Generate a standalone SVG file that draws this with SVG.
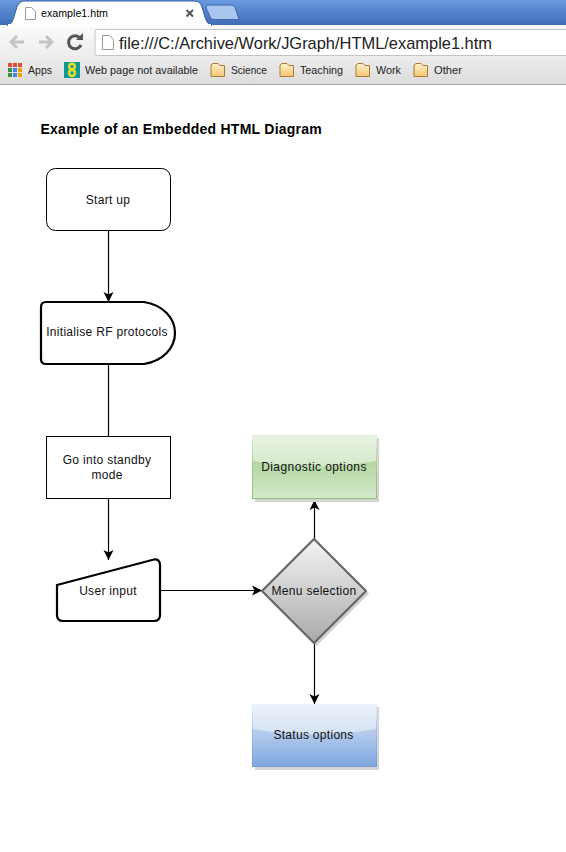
<svg xmlns="http://www.w3.org/2000/svg" width="566" height="852" viewBox="0 0 566 852">
<style>
text{font-family:"Liberation Sans",Arial,sans-serif;fill:#000}
.n{font-size:12px;text-anchor:middle;letter-spacing:.3px;fill:#111}
.b{font-size:11px;fill:#222}
.e{fill:none;stroke:#000;stroke-width:1.2}
.k{fill:#fff;stroke:#000;stroke-width:2.2;stroke-linejoin:round}
.f{fill:url(#fold);stroke:#a87a38;stroke-width:1}
.pg{fill:#fff;stroke:#999;stroke-width:1}
.gl{fill:#fff;fill-opacity:.45}
</style>
<defs>
<marker id="a" markerUnits="userSpaceOnUse" markerWidth="12" markerHeight="12" refX="10" refY="6" orient="auto"><path d="M0 1 L10 6 L0 11 L2.500 6Z" fill="#000"/></marker>
<linearGradient id="top" x1="0" y1="0" x2="0" y2="1"><stop offset="0" stop-color="#6a9ae0"/><stop offset="1" stop-color="#3f6cb8"/></linearGradient>
<linearGradient id="bar" x1="0" y1="0" x2="0" y2="1"><stop offset="0" stop-color="#fbfbfb"/><stop offset="1" stop-color="#ececec"/></linearGradient>
<linearGradient id="bm" x1="0" y1="0" x2="0" y2="1"><stop offset="0" stop-color="#ececec"/><stop offset="1" stop-color="#dcdcdc"/></linearGradient>
<linearGradient id="fold" x1="0" y1="0" x2="0" y2="1"><stop offset="0" stop-color="#fff0c8"/><stop offset="1" stop-color="#f6c675"/></linearGradient>
<linearGradient id="dia" x1="0" y1="0" x2="0" y2="1"><stop offset="0" stop-color="#f4f4f4"/><stop offset="1" stop-color="#aaaaaa"/></linearGradient>
<linearGradient id="grn" x1="0" y1="0" x2="0" y2="1"><stop offset="0" stop-color="#d6ebcd"/><stop offset=".45" stop-color="#b3d8a3"/><stop offset="1" stop-color="#d5e8cc"/></linearGradient>
<linearGradient id="blu" x1="0" y1="0" x2="0" y2="1"><stop offset="0" stop-color="#dce8f8"/><stop offset=".45" stop-color="#b4ccec"/><stop offset="1" stop-color="#7ea6de"/></linearGradient>
<linearGradient id="gs" x1="0" y1="0" x2="0" y2="1"><stop offset="0" stop-color="#e6f2e0"/><stop offset=".4" stop-color="#a9d098"/><stop offset="1" stop-color="#8fc07f"/></linearGradient>
<linearGradient id="bs" x1="0" y1="0" x2="0" y2="1"><stop offset="0" stop-color="#edf3fc"/><stop offset=".4" stop-color="#a5c2ea"/><stop offset="1" stop-color="#7399d2"/></linearGradient>
</defs>
<rect width="566" height="852" fill="#fff"/>
<g id="browser">
<rect width="566" height="25" fill="url(#top)"/>
<rect y="25" width="566" height="33" fill="url(#bar)"/>
<rect y="58" width="566" height="26" fill="url(#bm)"/>
<rect y="84" width="566" height="1" fill="#a8a8a8"/>
<path d="M7 25.500 C13 24 13 19 16 10 C18 3 20 1 26 1 L194 1 C200 1 201 4 203 10 C205 17 206 24 212 25.500" fill="#fff" stroke="#2f5a9e" stroke-width="1"/>
<rect x="8" y="24" width="203" height="2" fill="#fff"/>
<path d="M209 5 L231 5 C234 5 235 7 236 10 L239 19.500 L214 19.500 C211 19.500 210 17 209 14 L206 8 C206 6 207 5 209 5Z" fill="#a9c6ef" stroke="#3a66ad"/>
<path class="pg" d="M25.500 7.500 L31.500 7.500 L35.500 11.500 L35.500 19.500 L25.500 19.500Z"/>
<text x="41" y="17" textLength="67" lengthAdjust="spacingAndGlyphs" style="font-size:11px">example1.htm</text>
<path d="M186.500 10 L193 16.500 M193 10 L186.500 16.500" stroke="#555" stroke-width="2" fill="none"/>
<path d="M24 42 L11 42 M17 36 L11 42 L17 48" stroke="#c4c4c4" stroke-width="3" fill="none"/>
<path d="M39 42 L52 42 M46 36 L52 42 L46 48" stroke="#c4c4c4" stroke-width="3" fill="none"/>
<path d="M80 38 A6.500 6.500 0 1 0 81 45" stroke="#555" stroke-width="3" fill="none"/>
<path d="M76 40 L83 40 L83 33Z" fill="#555"/>
<rect x="95" y="29.500" width="475" height="26" rx="2" fill="#fff" stroke="#c4c4c4"/>
<path class="pg" d="M102.500 35.500 L109.500 35.500 L113.500 39.500 L113.500 49.500 L102.500 49.500Z"/>
<text x="119" y="49" textLength="373" lengthAdjust="spacingAndGlyphs" style="font-size:17px;fill:#222">file:///C:/Archive/Work/JGraph/HTML/example1.htm</text>
<g>
<rect x="8" y="63" width="4" height="4" fill="#dd4b39"/><rect x="13" y="63" width="4" height="4" fill="#dd4b39"/><rect x="18" y="63" width="4" height="4" fill="#dd4b39"/>
<rect x="8" y="68" width="4" height="4" fill="#3a8f3a"/><rect x="13" y="68" width="4" height="4" fill="#4285f4"/><rect x="18" y="68" width="4" height="4" fill="#f4a000"/>
<rect x="8" y="73" width="4" height="4" fill="#3a8f3a"/><rect x="13" y="73" width="4" height="4" fill="#4285f4"/><rect x="18" y="73" width="4" height="4" fill="#f4a000"/>
</g>
<text x="28" y="74" class="b" textLength="24" lengthAdjust="spacingAndGlyphs">Apps</text>
<rect x="64" y="62" width="16" height="16" fill="#109a96"/>
<circle cx="72" cy="66.500" r="2.800" fill="#109a96" stroke="#e8e020" stroke-width="2.400"/>
<circle cx="72" cy="73" r="3" fill="#109a96" stroke="#e8e020" stroke-width="2.400"/>
<text x="85" y="74" class="b" textLength="113" lengthAdjust="spacingAndGlyphs">Web page not available</text>
<path class="f" d="M211 76.500 L211 65 L213 63.500 L218 63.500 L220 65.500 L224.500 65.500 L224.500 76.500Z"/>
<text x="231" y="74" class="b" textLength="36" lengthAdjust="spacingAndGlyphs">Science</text>
<path class="f" d="M280 76.500 L280 65 L282 63.500 L287 63.500 L289 65.500 L293.500 65.500 L293.500 76.500Z"/>
<text x="300" y="74" class="b" textLength="43" lengthAdjust="spacingAndGlyphs">Teaching</text>
<path class="f" d="M356 76.500 L356 65 L358 63.500 L363 63.500 L365 65.500 L369.500 65.500 L369.500 76.500Z"/>
<text x="376" y="74" class="b" textLength="25" lengthAdjust="spacingAndGlyphs">Work</text>
<path class="f" d="M414 76.500 L414 65 L416 63.500 L421 63.500 L423 65.500 L427.500 65.500 L427.500 76.500Z"/>
<text x="434" y="74" class="b" textLength="28" lengthAdjust="spacingAndGlyphs">Other</text>
</g>
<text id="title" x="40.500" y="134" style="font-size:14px;font-weight:bold;letter-spacing:.25px">Example of an Embedded HTML Diagram</text>
<g id="connectors">
<path class="e" d="M108.500 230 L108.500 302" marker-end="url(#a)"/>
<path class="e" d="M108.500 363 L108.500 436"/>
<path class="e" d="M108.500 498 L108.500 560" marker-end="url(#a)"/>
<path class="e" d="M160 590.500 L262 590.500" marker-end="url(#a)"/>
<path class="e" d="M314.500 539 L314.500 500" marker-end="url(#a)"/>
<path class="e" d="M314.500 642 L314.500 704" marker-end="url(#a)"/>
</g>
<g id="start-up">
<rect x="46.500" y="168.500" width="124" height="62" rx="9" fill="#fff" stroke="#000"/>
<text x="108" y="203.500" class="n">Start up</text>
</g>
<g id="initialise">
<path class="k" d="M46 302 L144 302 C163 305 175 318 175 333 C175 348 163 361 144 364 L46 364 Q41 364 41 359 L41 307 Q41 302 46 302Z"/>
<text x="107" y="336" class="n">Initialise RF protocols</text>
</g>
<g id="standby">
<rect x="46.500" y="436.500" width="124" height="62" fill="#fff" stroke="#000"/>
<text x="107" y="464" class="n">Go into standby</text>
<text x="107" y="479" class="n">mode</text>
</g>
<g id="user-input">
<path class="k" d="M57 585 L154 559.500 Q160 559 160 565 L160 615 Q160 621 154 621 L63 621 Q57 621 57 615Z"/>
<text x="108" y="595" class="n">User input</text>
</g>
<g id="menu">
<path d="M316.500 541 L369 593.500 L316.500 646 L264 593.500Z" fill="#d0d0d0"/>
<path d="M314 539 L366 591 L314 643 L262 591Z" fill="url(#dia)" stroke="#666" stroke-width="2.200" stroke-linejoin="round"/>
<text x="314" y="595" class="n">Menu selection</text>
</g>
<g id="diagnostic">
<rect x="255" y="438" width="124" height="64" fill="#d4d4d4"/>
<rect x="252.500" y="435.500" width="124" height="63" fill="url(#grn)" stroke="url(#gs)"/>
<path class="gl" d="M253 436 H376 V461 Q314.500 472 253 461Z"/>
<text x="314" y="471" class="n" style="letter-spacing:.42px">Diagnostic options</text>
</g>
<g id="status">
<rect x="255" y="707" width="124" height="63" fill="#d4d4d4"/>
<rect x="252.500" y="704.500" width="124" height="62" fill="url(#blu)" stroke="url(#bs)"/>
<path class="gl" d="M253 705 H376 V729 Q314.500 740 253 729Z"/>
<text x="313.500" y="739" class="n">Status options</text>
</g>
</svg>
